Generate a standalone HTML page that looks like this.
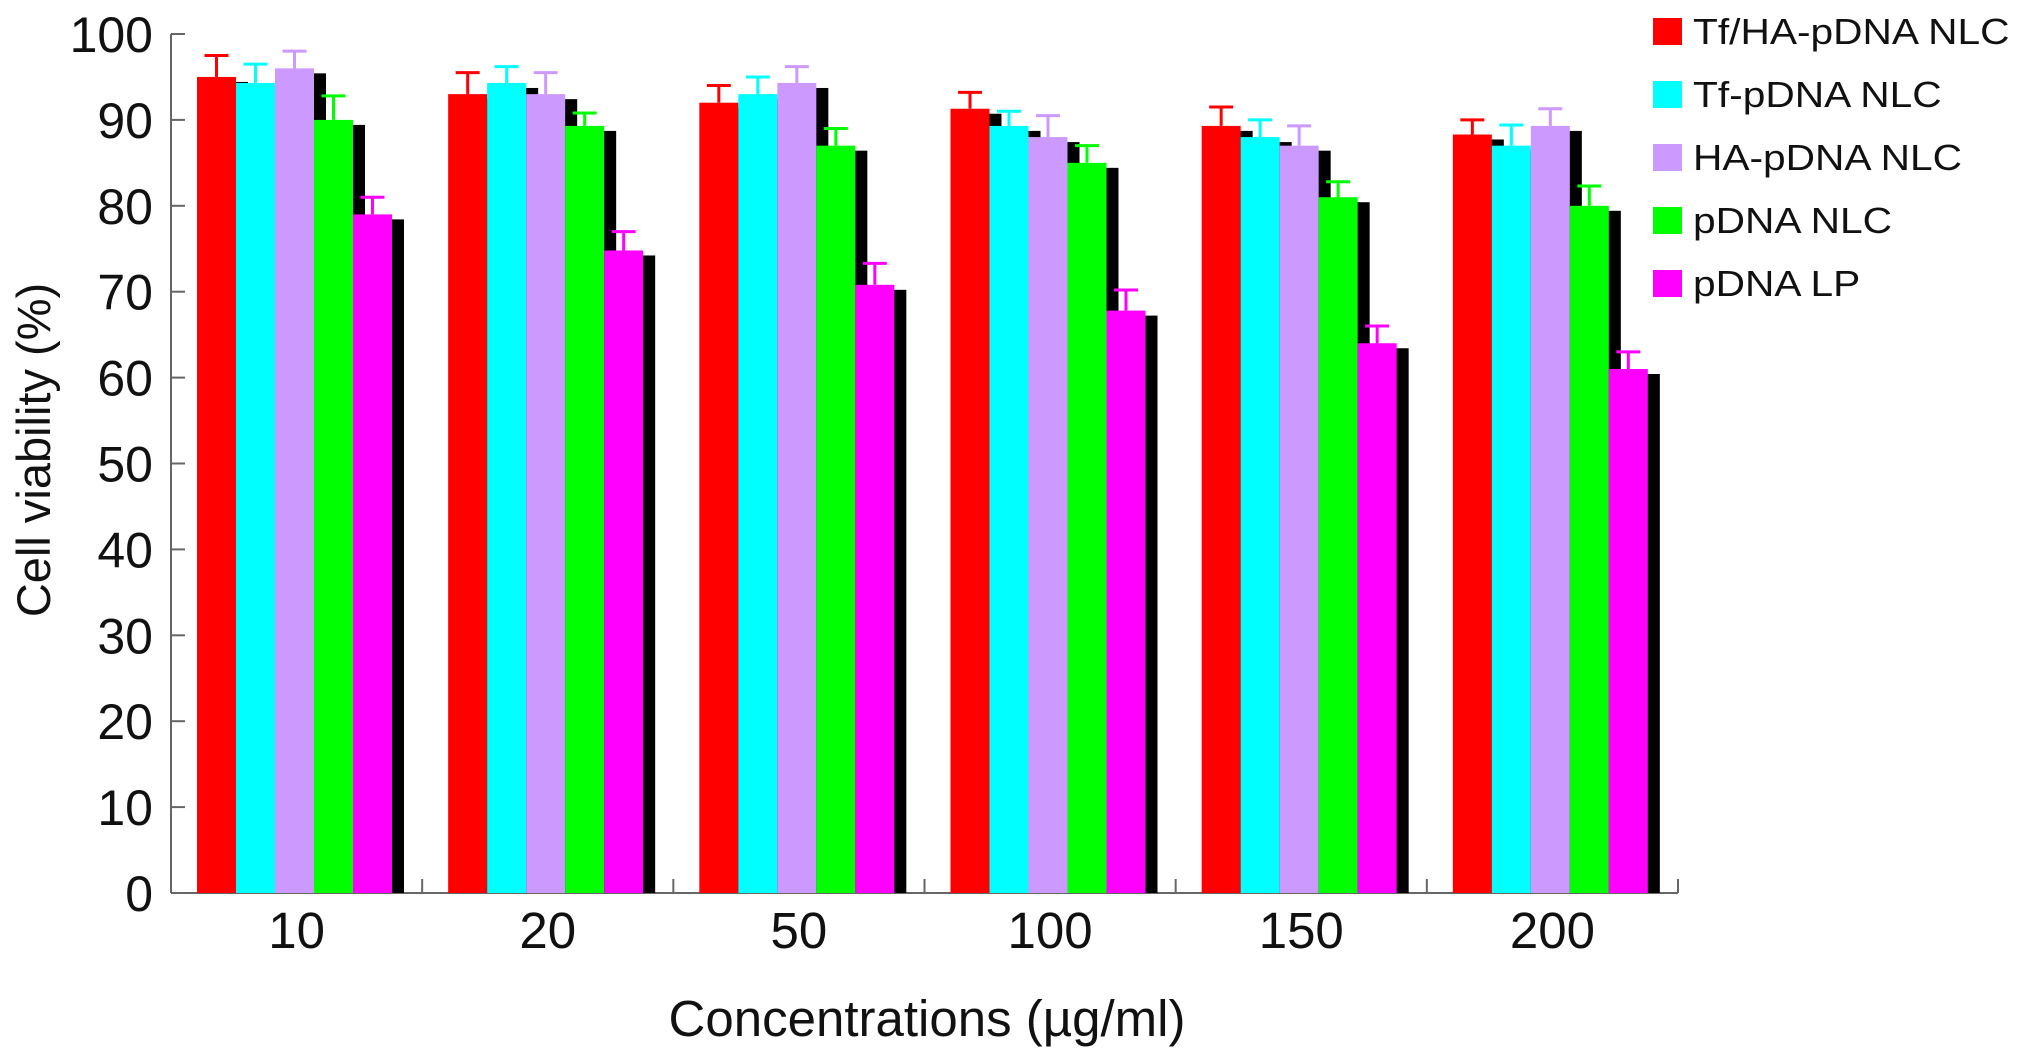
<!DOCTYPE html>
<html><head><meta charset="utf-8"><style>
html,body{margin:0;padding:0;background:#fff;}
svg{display:block;font-family:"Liberation Sans",Arial,sans-serif;}
</style></head><body>
<svg id="chart" width="2031" height="1057" viewBox="0 0 2031 1057">
<g id="grid"></g>
<g id="bars"></g>
<g id="legend"></g>
<text x="927" y="1036" font-size="51" text-anchor="middle" fill="#111">Concentrations (µg/ml)</text>
<text transform="translate(50,450) rotate(-90)" font-size="47" text-anchor="middle" fill="#111">Cell viability (%)</text>
</svg>
<script>
const categories = ["10","20","50","100","150","200"];
const seriesNames = ["Tf/HA-pDNA NLC","Tf-pDNA NLC","HA-pDNA NLC","pDNA NLC","pDNA LP"];
const seriesColors = ["#ff0000","#00ffff","#cc99ff","#00ff00","#ff00ff"];
const tfha = [95, 93, 92, 91.3, 89.3, 88.3];
const tf = [94.3, 94.3, 93, 89.3, 88, 87];
const ha = [96, 93, 94.3, 88, 87, 89.3];
const nlc = [90, 89.3, 87, 85, 81, 80];
const lp = [79, 74.8, 70.8, 67.8, 64, 61];
const tfhaErr = [2.5, 2.5, 2, 1.9, 2.2, 1.7];
const tfErr = [2.2, 1.9, 2, 1.7, 2, 2.4];
const haErr = [2, 2.5, 1.9, 2.5, 2.3, 2];
const nlcErr = [2.8, 1.5, 2, 2, 1.8, 2.3];
const lpErr = [2, 2.2, 2.5, 2.4, 2, 2];
const yTicks = [0,10,20,30,40,50,60,70,80,90,100];

const series = [tfha, tf, ha, nlc, lp];
const errs = [tfhaErr, tfErr, haErr, nlcErr, lpErr];
const NS = "http://www.w3.org/2000/svg";
const x0 = 171, x1 = 1678, yTop = 34, yBot = 893;
const groupW = (x1 - x0) / categories.length;
const barW = 39, barOff = 26;
function yScale(v){ return yBot - (v/100)*(yBot - yTop); }
function xGroup(i){ return x0 + i*groupW; }
function mk(tag, attrs, parent){
  const el = document.createElementNS(NS, tag);
  for (const k in attrs) el.setAttribute(k, attrs[k]);
  parent.appendChild(el);
  return el;
}
const axes = document.getElementById('grid');
const bars = document.getElementById('bars');
const legend = document.getElementById('legend');

let yl = mk('line',{x1:x0,y1:yTop,x2:x0,y2:yBot,stroke:'#666','stroke-width':2},axes);


let xl = mk('line',{x1:x0,y1:yBot,x2:x1,y2:yBot,stroke:'#666','stroke-width':2},axes);


yTicks.forEach(t=>{
  const y = yScale(t);
  const tk = mk('line',{x1:x0,y1:y,x2:x0+14,y2:y,stroke:'#666','stroke-width':2},axes);
  
  
  const lb = mk('text',{x:153,y:y+18,'font-size':50,'text-anchor':'end',fill:'#111'},axes);
  lb.textContent = t;
  
  
});
for (let i=1;i<=categories.length;i++){
  const x = xGroup(i);
  const tk = mk('line',{x1:x,y1:yBot,x2:x,y2:yBot-14,stroke:'#666','stroke-width':2},axes);
  
  
}
categories.forEach((c,i)=>{
  const lb = mk('text',{x:xGroup(i)+groupW/2,y:948,'font-size':51,'text-anchor':'middle',fill:'#111'},axes);
  lb.textContent = c;
  
  
});

categories.forEach((c,i)=>{
  series.forEach((s,j)=>{
    const bx = xGroup(i) + barOff + j*barW;
    const by = yScale(s[i]);
    const sh = mk('rect',{x:bx+12,y:by+5,width:barW,height:yBot-by-5,fill:'#000'},bars);
    
    
    const r = mk('rect',{x:bx,y:by,width:barW,height:yBot-by,fill:seriesColors[j]},bars);
    
    
    const ey = yScale(s[i]+errs[j][i]);
    const cx = bx + barW/2;
    const e1 = mk('line',{x1:cx,y1:by,x2:cx,y2:ey,stroke:seriesColors[j],'stroke-width':3},bars);
    
    
    const e2 = mk('line',{x1:cx-12,y1:ey,x2:cx+12,y2:ey,stroke:seriesColors[j],'stroke-width':3},bars);
    
    
  });
});

seriesNames.forEach((n,j)=>{
  const y = 18 + j*63;
  const sw = mk('rect',{x:1653,y:y,width:29,height:27,fill:seriesColors[j]},legend);
  
  
  const t = mk('text',{x:1693,y:y+26,'font-size':36,fill:'#111'},legend);
  t.textContent = n;
  
  
  const w = t.getComputedTextLength();
  t.setAttribute('textLength', (w*1.13).toFixed(1));
  t.setAttribute('lengthAdjust','spacingAndGlyphs');
});
</script>
</body></html>
